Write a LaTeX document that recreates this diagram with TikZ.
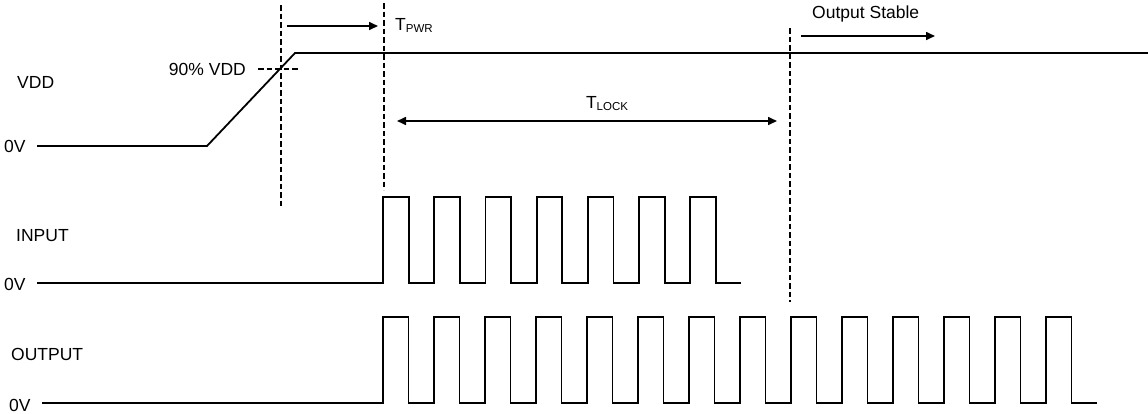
\documentclass[tikz,border=0pt]{standalone}
\usepackage{fontspec}
\setmainfont{Liberation Sans}
\usetikzlibrary{arrows.meta}

\tikzset{
	wave/.style={line width=1.8pt, line join=miter},
	guide/.style={line width=1.6pt, dash pattern=on 5.5pt off 3pt},
	timing/.style={line width=1.6pt, -{Triangle[length=9pt,width=8pt]}},
	lbl/.style={inner sep=0pt, font=\fontsize{17.5}{20}\selectfont},
}
\newcommand{\subtxt}[1]{\raisebox{-2pt}{\fontsize{11.5}{12}\selectfont #1}}

\begin{document}
\begin{tikzpicture}[x=1pt, y=-1pt]
			\useasboundingbox (0,0) rectangle (1148,413);

			% Draw the signal names and levels
			\node[lbl, anchor=west] (vdd) at (17,82) {VDD};
			\node[lbl, anchor=west] (zeroVdd) at (4,146) {0V};
			\node[lbl, anchor=west] (input) at (16,236) {INPUT};
			\node[lbl, anchor=west] (zeroIn) at (4,284) {0V};
			\node[lbl, anchor=west] (output) at (11,354) {OUTPUT};
			\node[lbl, anchor=west] (zeroOut) at (9,405) {0V};

			% Draw the timing labels
			\node[lbl, anchor=east] (ninety) at (246,69) {90\% VDD};
			\node[lbl, anchor=base west] (tpwr) at (395,30.5) {T\subtxt{PWR}};
			\node[lbl, anchor=base] (tlock) at (607,108) {T\subtxt{LOCK}};
			\node[lbl, anchor=base west] (stable) at (812,18) {Output Stable};

			% Draw the supply ramp
			\draw[wave] (37,146) -- (207,146) -- (295,53) -- (1148,53);
			\draw[guide] (258,69) -- (300,69);

			% Draw the dashed markers
			\coordinate (rampTop) at (281,5);
			\coordinate (rampBot) at (281,207);
			\coordinate (startTop) at (384,3);
			\coordinate (startBot) at (384,190);
			\coordinate (lockTop) at (790,28);
			\coordinate (lockBot) at (790,302);
			\draw[guide] (rampTop) -- (rampBot);
			\draw[guide] (startTop) -- (startBot);
			\draw[guide] (lockTop) -- (lockBot);

			% Draw the timing arrows
			\coordinate (pwrA) at (287,26);
			\coordinate (pwrB) at (378,26);
			\coordinate (lockA) at (397,121);
			\coordinate (lockB) at (777,121);
			\coordinate (stableA) at (801,36);
			\coordinate (stableB) at (935,36);
			\draw[timing] (pwrA) -- (pwrB);
			\draw[timing, {Triangle[length=9pt,width=8pt]}-{Triangle[length=9pt,width=8pt]}] (lockA) -- (lockB);
			\draw[timing] (stableA) -- (stableB);

			% Draw the input clock
			\draw[wave] (37,283) -- (383,283)
				\foreach \k in {1,...,7} { -- ++(0,-86) -- ++(25.6,0) -- ++(0,86) -- ++(25.6,0) };

			% Draw the output clock
			\draw[wave] (42,403) -- (383,403)
				\foreach \k in {1,...,14} { -- ++(0,-86) -- ++(25.5,0) -- ++(0,86) -- ++(25.5,0) };

\end{tikzpicture}
\end{document}
